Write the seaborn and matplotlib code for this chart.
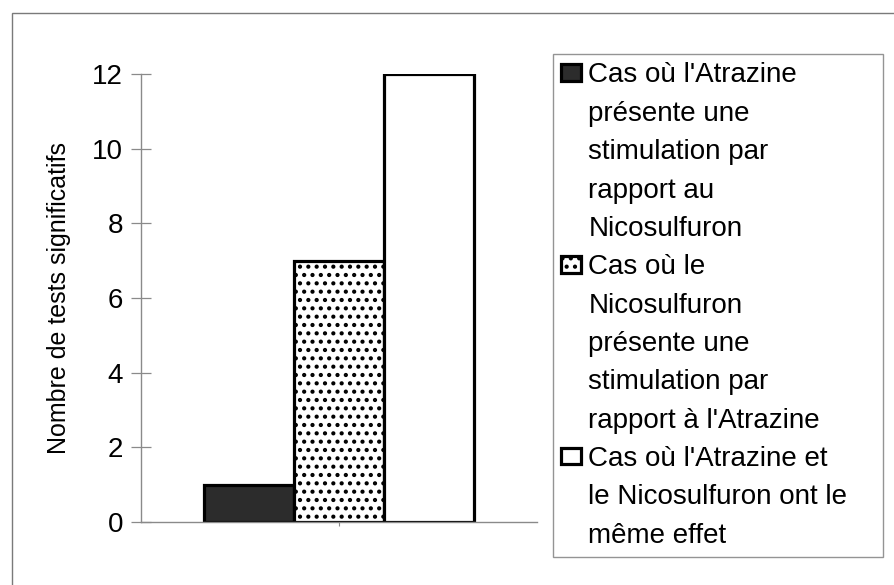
import matplotlib
matplotlib.use("Agg")
import matplotlib.pyplot as plt
import seaborn as sns
import pandas as pd
from matplotlib.patches import Rectangle

# ---- data ----
group = ["Tests"]
series = [
    "Cas où l'Atrazine\nprésente une\nstimulation par\nrapport au\nNicosulfuron",
    "Cas où le\nNicosulfuron\nprésente une\nstimulation par\nrapport à l'Atrazine",
    "Cas où l'Atrazine et\nle Nicosulfuron ont le\nmême effet",
]
values = [1, 7, 12]
y_ticks = [0, 2, 4, 6, 8, 10, 12]
y_label = "Nombre de tests significatifs"

# ---- styles ----
facecolors = ["#2c2c2c", "white", "white"]
hatches = ["", "..", ""]

sns.set_theme(style="white")
plt.rcParams["font.family"] = ["Liberation Sans", "DejaVu Sans"]
plt.rcParams["hatch.linewidth"] = 1.8

DPI = 100
W, H = 894, 585
fig = plt.figure(figsize=(W / DPI, H / DPI), dpi=DPI)
fig.patch.set_facecolor("white")
ax = fig.add_axes([141 / W, 1 - 522 / H, (537 - 141) / W, (522 - 74) / H])

df = pd.DataFrame({"grp": group * len(series), "serie": series, "val": values})
sns.barplot(data=df, x="grp", y="val", hue="serie", hue_order=series,
            palette=facecolors, edgecolor="black", linewidth=2.3,
            width=0.68, saturation=1, legend=False, ax=ax)

for cont, h, fc in zip(ax.containers, hatches, facecolors):
    for p in cont.patches:
        p.set_facecolor(fc)
        p.set_edgecolor("black")
        p.set_hatch(h)

ax.set_xlim(-0.5, 0.5)
ax.set_ylim(0, 12)
ax.set_yticks(y_ticks)
ax.set_yticklabels([str(t) for t in y_ticks])
ax.set_xticks([0])
ax.set_xticklabels([""])
ax.set_xlabel("")
ax.set_ylabel(y_label, fontsize=18, color="black")
ax.yaxis.set_label_coords(-0.177, 0.5)

for s in ["top", "right"]:
    ax.spines[s].set_visible(False)
for s in ["left", "bottom"]:
    ax.spines[s].set_visible(True)
    ax.spines[s].set_color("#8a8a8a")
    ax.spines[s].set_linewidth(1.0)
ax.tick_params(axis="y", direction="inout", length=14, width=0.9, color="#8a8a8a",
               labelsize=20, labelcolor="black", pad=6, left=True)
ax.tick_params(axis="x", direction="out", length=3, width=0.8, color="#8a8a8a", bottom=True)
ax.grid(False)
ax.set_facecolor("white")

# outer frame
fig.patches.append(Rectangle((12 / W, -0.05), 1.2, 1 - 13 / H + 0.05,
                             transform=fig.transFigure, fill=False,
                             edgecolor="#7a7a7a", linewidth=1.0, zorder=0))

handles = [c.patches[0] for c in ax.containers]
fs = 20
leg = fig.legend(handles, series, loc="upper left",
                 bbox_to_anchor=(553 / W, 1 - 54 / H, (883 - 553) / W, 0.0),
                 mode="expand", fontsize=fs, frameon=True, fancybox=False,
                 borderpad=0.3, borderaxespad=0.0, handlelength=0.72,
                 handleheight=0.55, handletextpad=0.25, labelspacing=0.44)
leg.get_frame().set_edgecolor("#7a7a7a")
leg.get_frame().set_linewidth(1.0)
for t in leg.get_texts():
    t.set_linespacing(1.62)
    t.set_color("black")

# align each legend key with the first line of its label
fig.canvas.draw()
fs_px = fs * DPI / 72
for t, hdl in zip(leg.get_texts(), leg.legend_handles):
    tb = t.get_window_extent()
    hb = hdl.get_window_extent()
    desired_center = tb.y1 - 0.36 * fs_px
    cur_center = (hb.y0 + hb.y1) / 2
    delta_pt = (desired_center - cur_center) * 72 / DPI
    hdl.set_y(hdl.get_y() + delta_pt)

fig.savefig("out.png", dpi=DPI, facecolor="white")
